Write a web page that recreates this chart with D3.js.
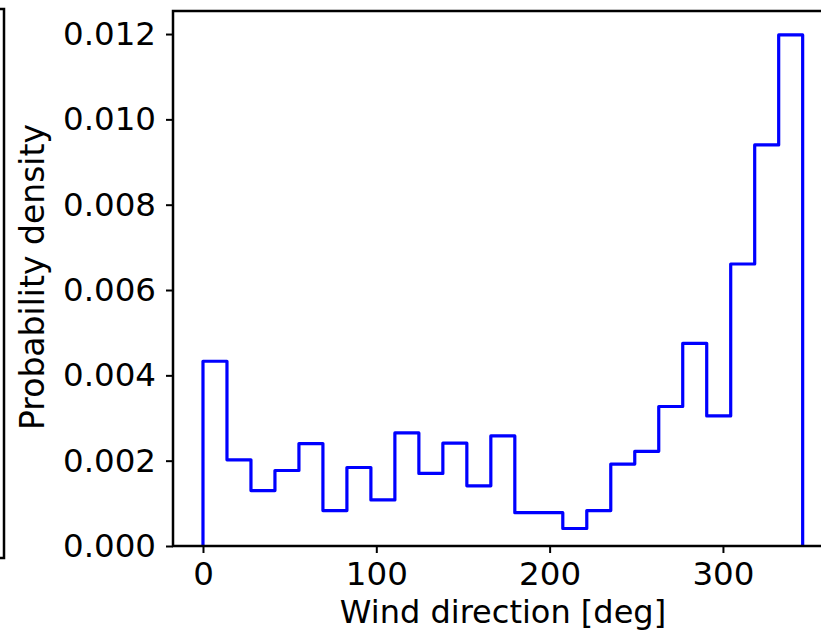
<!DOCTYPE html>
<html>
<head>
    <meta charset="utf-8">
    <title>Wind direction histogram</title>
    <script src="https://cdn.jsdelivr.net/npm/d3@7"></script>
    <style>
        body { margin: 0; background: #fff; }
        text { font-family: "DejaVu Sans", sans-serif; fill: #000; }
    </style>
</head>
<body>
<script>
        // bin edges (deg) and density per bin
        var binEdges = [0, 13.84, 27.68, 41.52, 55.36, 69.2, 83.04, 96.88, 110.72, 124.56,
            138.4, 152.24, 166.08, 179.92, 193.76, 207.6, 221.44, 235.28, 249.12, 262.96,
            276.8, 290.64, 304.48, 318.32, 332.16, 346.0];
        var density = [0.00433, 0.00202, 0.00130, 0.00177, 0.00240, 0.00083, 0.00184, 0.00108,
            0.00265, 0.00170, 0.00241, 0.00141, 0.00258, 0.00078, 0.00078, 0.00041, 0.00083,
            0.00192, 0.00222, 0.00327, 0.00475, 0.00305, 0.00661, 0.00940, 0.01198];
        var xTicks = [0, 100, 200, 300];
        var yTicks = [0, 0.002, 0.004, 0.006, 0.008, 0.010, 0.012];

        var W = 821, H = 638;
        var pLeft = 173, pRight = 833, pTop = 11, pBottom = 546;

        var svg = d3.select("body").append("svg")
            .attr("width", W)
            .attr("height", H);

        var x = d3.scaleLinear().domain([-17.3, 363.5]).range([pLeft, pRight]);
        var y = d3.scaleLinear().domain([0, 0.01254]).range([pBottom, pTop]);

        // corner of the neighbouring panel, cut off at the left edge
        svg.append("path")
            .attr("d", "M-5,9 L4,9 L4,558 L-5,558")
            .attr("fill", "none")
            .attr("stroke", "#000")
            .attr("stroke-width", 2.5);

        // step outline
        var pts = [[binEdges[0], 0]];
        density.forEach(function (d, i) {
            pts.push([binEdges[i], d]);
            pts.push([binEdges[i + 1], d]);
        });
        pts.push([binEdges[binEdges.length - 1], 0]);

        var line = d3.line()
            .x(function (d) { return x(d[0]); })
            .y(function (d) { return y(d[1]); });

        svg.append("path")
            .datum(pts)
            .attr("d", line)
            .attr("fill", "none")
            .attr("stroke", "#0000ff")
            .attr("stroke-width", 3.2)
            .attr("stroke-linejoin", "round");

        // axes
        var xAxis = svg.append("g")
            .attr("transform", "translate(0," + pBottom + ")")
            .call(d3.axisBottom(x).tickValues(xTicks).tickSize(7).tickPadding(9)
                .tickFormat(d3.format("d")));

        var yAxis = svg.append("g")
            .attr("transform", "translate(" + pLeft + ",0)")
            .call(d3.axisLeft(y).tickValues(yTicks).tickSize(7).tickPadding(10)
                .tickFormat(d3.format(".3f")));

        [xAxis, yAxis].forEach(function (g) {
            g.select(".domain").remove();
            g.selectAll(".tick line").attr("stroke", "#000").attr("stroke-width", 2);
            g.selectAll(".tick text")
                .style("font-size", "32.5px")
                .style("font-family", "'DejaVu Sans', sans-serif")
                .attr("fill", "#000");
        });

        // spines
        svg.append("rect")
            .attr("x", pLeft)
            .attr("y", pTop)
            .attr("width", pRight - pLeft)
            .attr("height", pBottom - pTop)
            .attr("fill", "none")
            .attr("stroke", "#000")
            .attr("stroke-width", 2.5);

        svg.append("text")
            .attr("x", (pLeft + pRight) / 2)
            .attr("y", 623)
            .attr("text-anchor", "middle")
            .style("font-size", "32px")
            .text("Wind direction [deg]");

        svg.append("text")
            .attr("transform", "translate(44,277) rotate(-90)")
            .attr("text-anchor", "middle")
            .style("font-size", "33px")
            .text("Probability density");
    </script>
</body>
</html>
